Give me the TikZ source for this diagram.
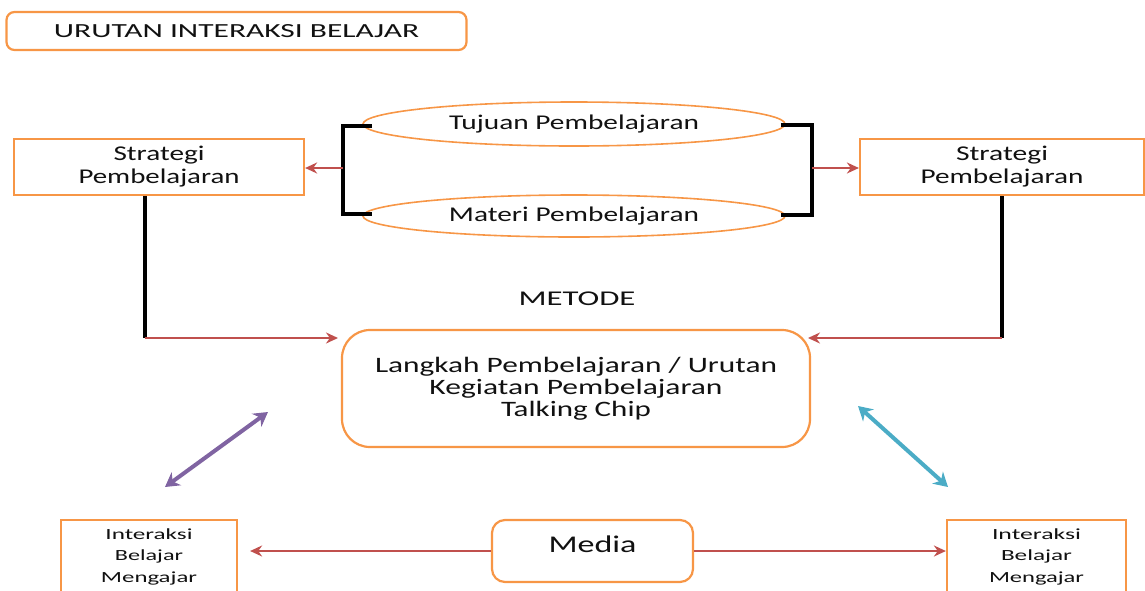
\documentclass[tikz,border=0pt]{standalone}
\usepackage{fontspec}
\setmainfont{Carlito}
\usepackage{graphicx}
\usetikzlibrary{arrows.meta,shapes.geometric}
\definecolor{borange}{HTML}{F79646}
\definecolor{ared}{HTML}{C0504D}
\definecolor{apurple}{HTML}{8064A2}
\definecolor{acyan}{HTML}{4BACC6}
\definecolor{txt}{HTML}{111111}
\newcommand\wl[2]{\resizebox{#1pt}{\height}{#2}}
\tikzset{
  obox/.style={draw=borange,line width=2.2pt,fill=white,text=txt,align=center,inner sep=0pt},
  oell/.style={draw=borange,line width=1.6pt,ellipse,text=txt,inner sep=0pt},
  blk/.style={draw=black,line width=3.2pt},
  redarr/.style={draw=ared,line width=2.2pt,-{Stealth[length=12pt,width=11pt]}},
  dblarr/.style={line width=4pt,{Stealth[length=14pt,width=16pt]}-{Stealth[length=14pt,width=16pt]}}
}
\begin{document}
\begin{tikzpicture}[x=1pt,y=-1pt]
\useasboundingbox (0,0) rectangle (1145,590);
\clip (0,0) rectangle (1145,590);
% title
\node[obox,rounded corners=8pt,minimum width=460pt,minimum height=38pt,font=\fontsize{20}{20}\selectfont] (title) at (236.5,31) {\wl{365}{URUTAN INTERAKSI BELAJAR}};
% strategy boxes
\node[obox,minimum width=290pt,minimum height=56pt,font=\fontsize{21}{23}\selectfont] (sl) at (159,167) {\wl{91}{Strategi}\\\wl{161}{Pembelajaran}};
\node[obox,minimum width=284pt,minimum height=56pt,font=\fontsize{21}{23}\selectfont] (sr) at (1002,167) {\wl{92}{Strategi}\\\wl{163}{Pembelajaran}};
% ellipses
\node[oell,minimum width=422pt,minimum height=44pt,font=\fontsize{21}{20}\selectfont] (tujuan) at (574,124) {\wl{250}{Tujuan Pembelajaran}};
\node[oell,minimum width=422pt,minimum height=42pt,font=\fontsize{21}{20}\selectfont] (materi) at (574,216) {\wl{250}{Materi Pembelajaran}};
% brackets
\coordinate (bl) at (343,168);
\coordinate (br) at (812,168);
\draw[blk] ([xshift=10pt]tujuan.west |- 0,126) -- (343,126) -- (343,214) -- ([xshift=10pt]materi.west |- 0,214);
\draw[blk] ([xshift=-5pt]tujuan.east |- 0,125) -- (812,125) -- (812,215) -- ([xshift=-5pt]materi.east |- 0,215);
\draw[redarr] (bl) -- (sl.east |- bl);
\draw[redarr] (br) -- (sr.west |- br);
% metode
\node[text=txt,font=\fontsize{21}{22}\selectfont] (metode) at (577,299) {\wl{117}{METODE}};
% central box
\node[obox,rounded corners=28pt,minimum width=468pt,minimum height=117pt,font=\fontsize{22}{22}\selectfont] (langkah) at (576,388.5) {\wl{402}{Langkah Pembelajaran / Urutan}\\\wl{293}{Kegiatan Pembelajaran}\\\wl{150}{Talking Chip}};
% connectors from strategy boxes
\coordinate (cl) at (145,338);
\coordinate (tl) at (338,338);
\coordinate (cr) at (1002,338);
\coordinate (tr) at (808,338);
\draw[blk] ([xshift=-14pt]sl.south) -- (cl);
\draw[redarr] (cl) -- (tl);
\draw[blk] (sr.south) -- (cr);
\draw[redarr] (cr) -- (tr);
% bottom boxes
\node[obox,minimum width=176pt,minimum height=73pt,font=\fontsize{15.5}{21.5}\selectfont] (il) at (149,556.5) {\wl{87}{Interaksi}\\\wl{68}{Belajar}\\\wl{96}{Mengajar}};
\node[obox,minimum width=179pt,minimum height=73pt,font=\fontsize{15.5}{21.5}\selectfont] (ir) at (1036.5,556.5) {\wl{89}{Interaksi}\\\wl{71}{Belajar}\\\wl{95}{Mengajar}};
\node[obox,rounded corners=13pt,minimum width=201pt,minimum height=62pt,font=\fontsize{24}{24}\selectfont] (media) at (592.5,551) {\raisebox{13pt}{\wl{88}{Media}}};
\draw[redarr] (media.west) -- ([xshift=12pt]il.east |- media.west);
\draw[redarr] (media.east) -- (ir.west |- media.east);
% double arrows
\coordinate (p1) at (165,487);
\coordinate (p2) at (268,412);
\coordinate (c1) at (858,406);
\coordinate (c2) at (948,487);
\draw[dblarr,draw=apurple,fill=apurple] (p1) -- (p2);
\draw[dblarr,draw=acyan,fill=acyan] (c1) -- (c2);
\end{tikzpicture}
\end{document}
